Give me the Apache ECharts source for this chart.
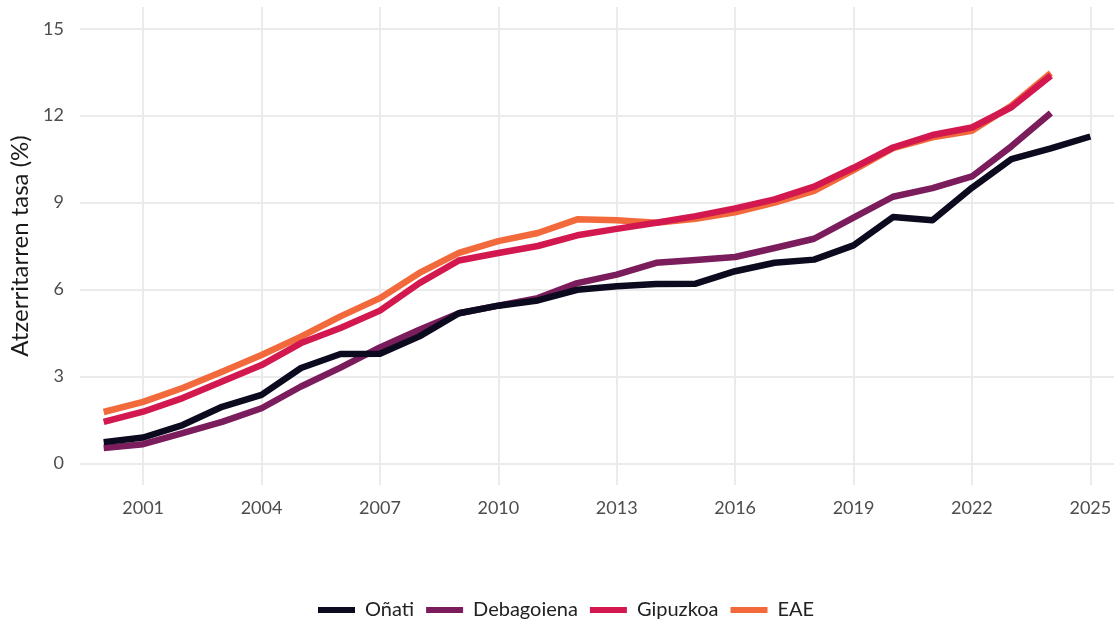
<!DOCTYPE html>
<html>
<head>
<meta charset="utf-8">
<script src="https://cdn.jsdelivr.net/npm/echarts@6/dist/echarts.min.js"></script>
<style>
  html, body { margin: 0; padding: 0; background: #fff; }
  #chart { width: 1116px; height: 624px; }
</style>
</head>
<body>
<div id="chart"></div>
<script>
// urteak (x ardatza)
var years = [2000, 2001, 2002, 2003, 2004, 2005, 2006, 2007, 2008, 2009, 2010, 2011, 2012,
  2013, 2014, 2015, 2016, 2017, 2018, 2019, 2020, 2021, 2022, 2023, 2024, 2025];

// atzerritarren tasa (%) - irudian irakurritako balioak
var onati = [0.73, 0.89, 1.32, 1.95, 2.36, 3.29, 3.77, 3.78, 4.38, 5.18, 5.44, 5.62, 5.99,
  6.11, 6.19, 6.2, 6.63, 6.92, 7.03, 7.52, 8.5, 8.39, 9.51, 10.5, 10.87, 11.28];
var debagoiena = [0.53, 0.66, 1.04, 1.43, 1.9, 2.65, 3.3, 4.0, 4.61, 5.18, 5.44, 5.7, 6.22,
  6.51, 6.92, 7.02, 7.12, 7.43, 7.75, 8.48, 9.2, 9.5, 9.9, 10.94, 12.09];
var gipuzkoa = [1.43, 1.78, 2.25, 2.82, 3.39, 4.15, 4.67, 5.27, 6.22, 7.0, 7.26, 7.5, 7.87,
  8.09, 8.3, 8.53, 8.8, 9.11, 9.55, 10.2, 10.9, 11.33, 11.59, 12.29, 13.38];
var eae = [1.77, 2.12, 2.6, 3.16, 3.74, 4.37, 5.07, 5.7, 6.57, 7.26, 7.67, 7.95, 8.42,
  8.39, 8.3, 8.44, 8.66, 9.0, 9.4, 10.12, 10.88, 11.25, 11.48, 12.34, 13.47];

var seriesNames = ['Oñati', 'Debagoiena', 'Gipuzkoa', 'EAE'];
var xTicks = [2001, 2004, 2007, 2010, 2013, 2016, 2019, 2022, 2025];
var yTicks = [0, 3, 6, 9, 12, 15];

var colors = ['#0b0a1e', '#7b1d5c', '#d2184f', '#f26a3b'];
var gridColor = '#ebebeb';
var labelFont = 'Lato, "Open Sans", sans-serif';

function toPairs(vals) {
  var out = [];
  for (var i = 0; i < vals.length; i++) {
    out.push([years[i], vals[i]]);
  }
  return out;
}

function makeLine(name, vals, color, z) {
  return {
    name: name,
    type: 'line',
    data: toPairs(vals),
    showSymbol: false,
    symbol: 'none',
    z: z,
    lineStyle: { color: color, width: 6.5, cap: 'butt', join: 'round' },
    itemStyle: { color: color },
    emphasis: { disabled: true }
  };
}

var chart = echarts.init(document.getElementById('chart'), null, { renderer: 'canvas' });

var option = {
  animation: false,
  backgroundColor: '#fff',
  grid: { left: 80, right: 2, top: 7, bottom: 139 },
  legend: {
    data: seriesNames,
    top: 600,
    left: 318,
    padding: 0,
    icon: 'rect',
    itemWidth: 37,
    itemHeight: 6,
    itemGap: 12,
    textStyle: { fontFamily: labelFont, fontSize: 20, color: '#222', padding: [0, 0, 0, 5] }
  },
  xAxis: {
    type: 'value',
    min: 1999.4,
    max: 2025.6,
    axisLine: { show: false },
    axisTick: { show: false, customValues: xTicks },
    axisLabel: {
      customValues: xTicks,
      fontFamily: labelFont,
      fontSize: 18,
      color: '#4d4d4d',
      margin: 14,
      formatter: function (v) { return String(v); }
    },
    splitLine: { show: true, lineStyle: { color: gridColor, width: 2 } }
  },
  yAxis: {
    type: 'value',
    min: -0.75,
    max: 15.75,
    name: 'Atzerritarren tasa (%)',
    nameLocation: 'middle',
    nameGap: 47,
    nameTextStyle: { fontFamily: labelFont, fontSize: 24, color: '#1a1a1a' },
    axisLine: { show: false },
    axisTick: { show: false, customValues: yTicks },
    axisLabel: {
      customValues: yTicks,
      fontFamily: labelFont,
      fontSize: 18,
      color: '#4d4d4d',
      margin: 16
    },
    splitLine: { show: true, lineStyle: { color: gridColor, width: 2 } }
  },
  series: [
    makeLine('EAE', eae, colors[3], 2),
    makeLine('Gipuzkoa', gipuzkoa, colors[2], 3),
    makeLine('Debagoiena', debagoiena, colors[1], 4),
    makeLine('Oñati', onati, colors[0], 5)
  ]
};

chart.setOption(option);
</script>
</body>
</html>
